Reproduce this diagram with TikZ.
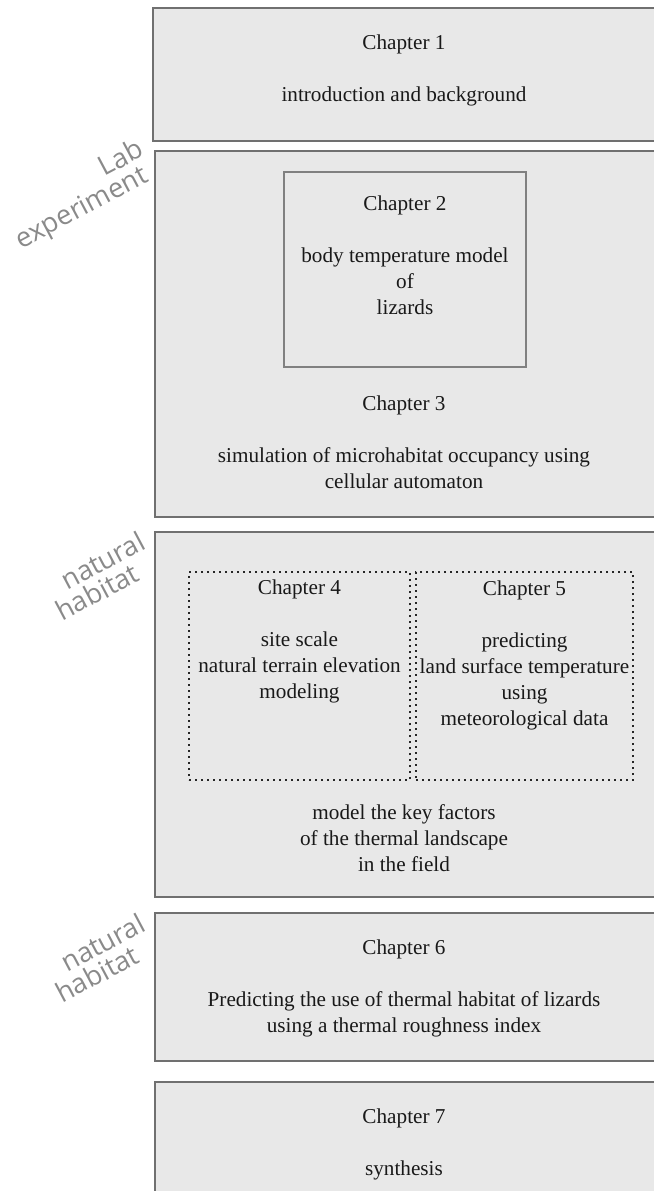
\documentclass[tikz,border=0pt]{standalone}
\usepackage{fontspec}
\setmainfont{Liberation Serif}
\newfontfamily\labelfont{Open Sans}
\usetikzlibrary{fit}
\definecolor{boxfill}{HTML}{E8E8E8}
\definecolor{boxline}{HTML}{707070}
\definecolor{innerline}{HTML}{808080}
\definecolor{labelgrey}{HTML}{8A8A8A}
\begin{document}
\begin{tikzpicture}[x=0.5pt,y=-0.5pt,
 chapbox/.style={draw=boxline, fill=boxfill, line width=1pt, inner sep=0pt},
 innerbox/.style={draw=innerline, line width=0.8pt, inner sep=0pt},
 dotbox/.style={draw=black!85, line width=1pt, dash pattern=on 1pt off 2pt, inner sep=0pt},
 txt/.style={align=center, font=\fontsize{10.6}{13}\selectfont, inner sep=0pt, text=black!90},
 sidelabel/.style={align=right, font=\labelfont\fontsize{13.6}{12.5}\selectfont, text=labelgrey, rotate=28, inner sep=0pt}]
\useasboundingbox (0,0) rectangle (654,1191);
% outer chapter boxes
\node[chapbox, fit={(153,8) (662,141)}] (b1) {};
\node[chapbox, fit={(155,151) (662,517)}] (b2) {};
\node[chapbox, fit={(155,532) (662,897)}] (b3) {};
\node[chapbox, fit={(155,913) (662,1061)}] (b4) {};
\node[chapbox, fit={(155,1082) (662,1200)}] (b5) {};
% inner boxes
\node[innerbox, fit={(284,172) (526,367)}] (c2) {};
\node[dotbox, fit={(189,572) (410,780)}] (c4) {};
\node[dotbox, fit={(416,572) (633,780)}] (c5) {};
% texts
\node[txt] (t1) at (404,70) {Chapter 1\\[13pt]introduction and background};
\node[txt] (t2) at (405,255) {Chapter 2\\[13pt]body temperature model\\of\\lizards};
\node[txt] (t3) at (404,442) {Chapter 3\\[13pt]simulation of microhabitat occupancy using\\cellular automaton};
\node[txt] (t4) at (299.5,641.5) {Chapter 4\\[13pt]site scale\\natural terrain elevation\\modeling};
\node[txt] (t5) at (524.5,655) {Chapter 5\\[13pt]predicting\\land surface temperature\\using\\meteorological data};
\node[txt] (t6) at (404,838) {model the key factors\\of the thermal landscape\\in the field};
\node[txt] (t7) at (404,988) {Chapter 6\\[13pt]Predicting the use of thermal habitat of lizards\\using a thermal roughness index};
\node[txt] (t8) at (404,1144) {Chapter 7\\[13pt]synthesis};
% side labels
\node[sidelabel] (l1) at (80,196) {Lab\\experiment\hspace*{4pt}};
\node[sidelabel] (l2) at (100,576) {natural\\habitat\hspace*{10pt}};
\node[sidelabel] (l3) at (100,958) {natural\\habitat\hspace*{10pt}};
\end{tikzpicture}
\end{document}
